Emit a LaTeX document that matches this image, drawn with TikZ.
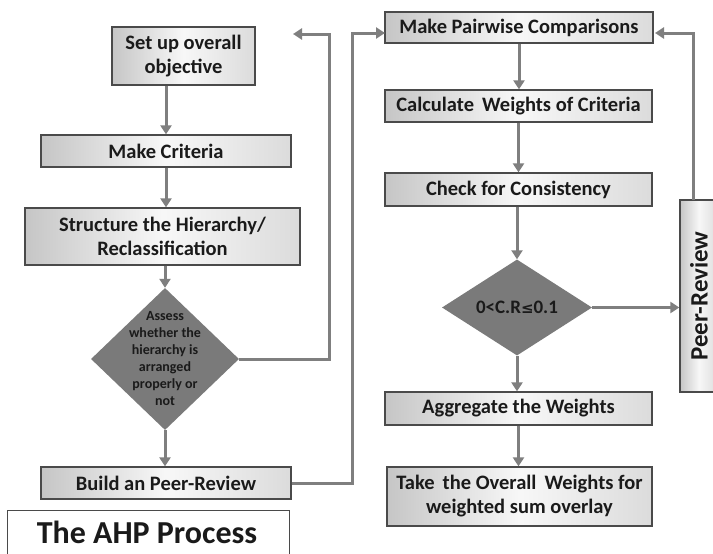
\documentclass[tikz,border=0pt]{standalone}
\usepackage{fontspec}
\setmainfont{Carlito}
\newfontfamily\symfont{DejaVu Sans}
\usetikzlibrary{shapes.geometric,arrows.meta}
\definecolor{arr}{HTML}{7F7F7F}
\definecolor{bord}{HTML}{4A4A4A}
\definecolor{dia}{HTML}{7A7A7A}
\definecolor{txt}{HTML}{1A1A1A}
\begin{document}
\begin{tikzpicture}[x=1pt,y=-1pt,
  box/.style={draw=bord, line width=1.3pt, left color=gray!45, right color=gray!28, middle color=gray!6,
    font=\bfseries\fontsize{20.5}{24}\selectfont, text=txt, align=center, inner sep=0pt},
  dmd/.style={diamond, draw=none, fill=dia, inner sep=0pt},
  conn/.style={draw=arr, line width=3pt, -{Triangle[length=9pt,width=11pt]}},
  lbl/.style={font=\bfseries\fontsize{14}{17}\selectfont, text=txt, align=center, inner sep=0pt}]
\useasboundingbox[fill=white] (0,0) rectangle (713,554);

% left column
\node[box, minimum width=143pt, minimum height=58pt] (obj) at (183.5,56) {Set up overall\\objective};
\node[box, minimum width=250pt, minimum height=32pt] (crit) at (166,151) {Make Criteria};
\node[box, minimum width=275pt, minimum height=57pt] (struct) at (162.5,236.5) {Structure the Hierarchy/\\Reclassification};
\node[dmd, minimum width=148pt, minimum height=142pt] (assess) at (165,359) {};
\node[lbl] at (assess) {Assess\\whether the\\hierarchy is\\arranged\\properly or\\not};
\node[box, minimum width=250pt, minimum height=32pt] (build) at (166,483) {Build an Peer-Review};
\node[draw=bord, line width=1.3pt, fill=white, minimum width=282pt, minimum height=50pt, anchor=north west, inner sep=0pt] (titlebox) at (7,510) {};
\node[font=\bfseries\fontsize{32}{36}\selectfont, text=txt, inner sep=0pt] (title) at (147,532) {The AHP Process};

% right column
\node[box, minimum width=268pt, minimum height=31pt] (pair) at (519,27.5) {Make Pairwise Comparisons};
\node[box, minimum width=267pt, minimum height=32pt] (calc) at (518.5,106) {Calculate\ \,Weights of Criteria};
\node[box, minimum width=267pt, minimum height=33pt] (check) at (518.5,189.5) {Check for Consistency};
\node[dmd, minimum width=150pt, minimum height=96pt] (cr) at (517,307.5) {};
\node[font=\bfseries\fontsize{19}{22}\selectfont, text=txt, inner sep=0pt] at (cr) {0<C.R{\symfont\fontsize{15}{18}\selectfont ≤}0.1};
\node[box, minimum width=267pt, minimum height=33pt] (agg) at (518.5,408.5) {Aggregate the Weights};
\node[box, minimum width=265pt, minimum height=59pt] (take) at (519.5,496.5) {Take\ \,the Overall\ \,Weights for\\weighted sum overlay};
\node[box, rotate=90, minimum width=192pt, minimum height=38pt, font=\bfseries\fontsize{25}{28}\selectfont] (peer) at (699,296) {Peer-Review};

% helper coordinates
\coordinate (aback) at (293,34);
\coordinate (pairin) at (385,33);
\coordinate (pairout) at (655,33);

% vertical flow, left
\draw[conn] (obj.south -| crit.north) -- (crit.north);
\draw[conn] (crit.south) -- (crit.south |- struct.north);
\draw[conn] (struct.south -| assess.north) -- (assess.north);
\draw[conn] (assess.south) -- (assess.south |- build.north);

% loops
\draw[conn] (assess.east) -- (329,359) -- (329,34) -- (aback);
\draw[conn] (build.east) -- (352,483) -- (352,33) -- (pairin);

% vertical flow, right
\draw[conn] (pair.south) -- (pair.south |- calc.north);
\draw[conn] (calc.south) -- (calc.south |- check.north);
\draw[conn] (check.south -| cr.north) -- (cr.north);
\draw[conn] (cr.south) -- (cr.south |- agg.north);
\draw[conn] (agg.south) -- (agg.south |- take.north);

% to peer review and back
\draw[conn] (cr.east) -- (cr.east -| peer.north);
\draw[conn] (693,200) -- (693,33) -- (pairout);
\end{tikzpicture}
\end{document}
